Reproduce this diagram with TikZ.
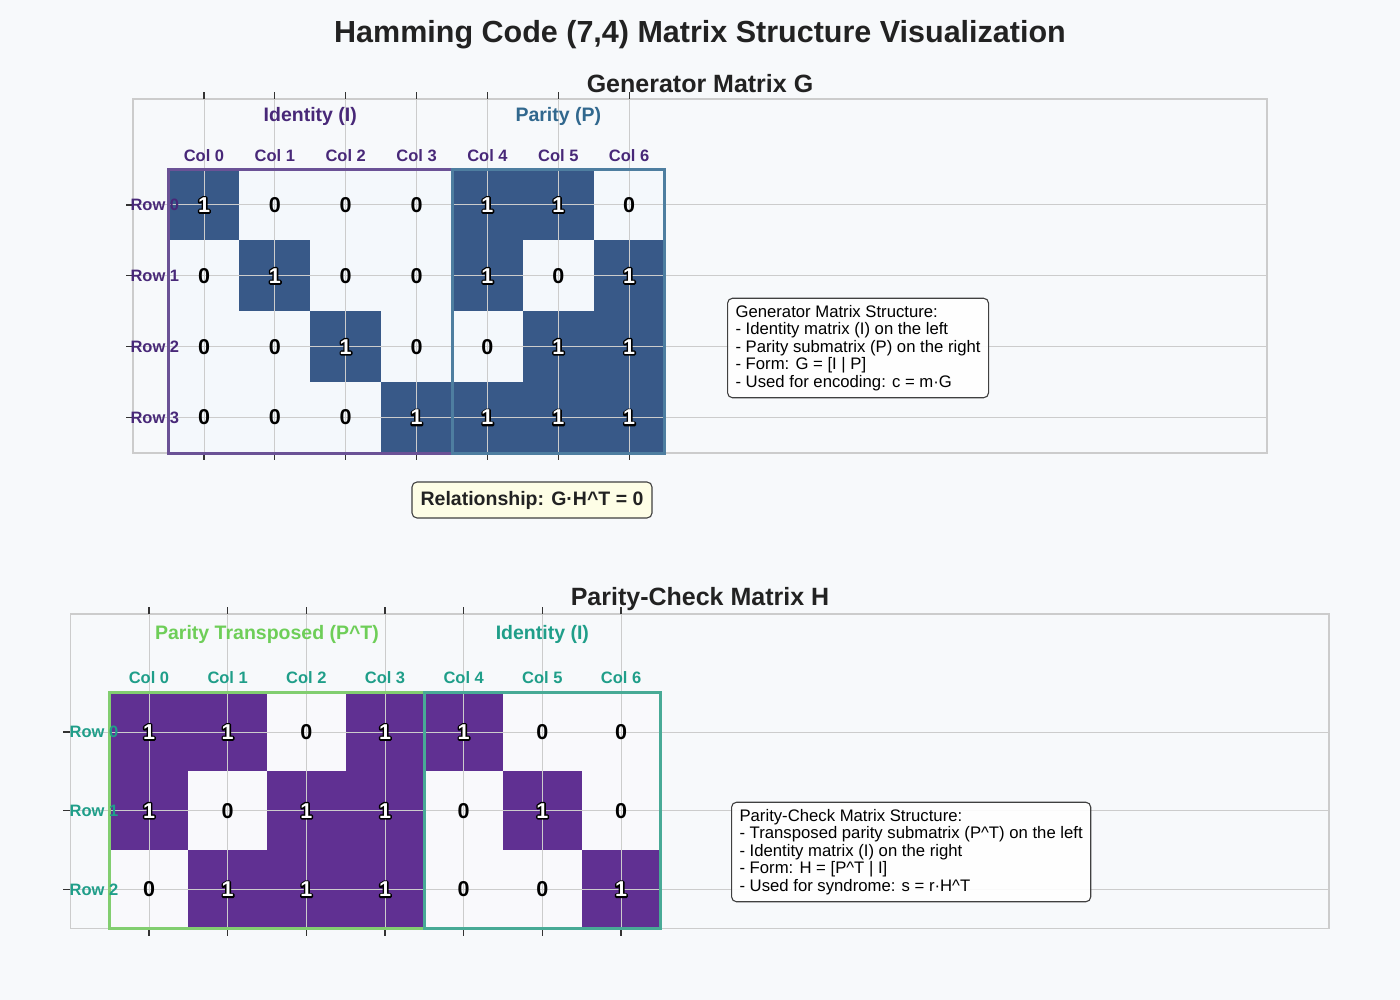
\documentclass[tikz,border=0pt]{standalone}
\usepackage{fontspec}
\setmainfont{Liberation Sans}
\usepackage{xcolor}
\usepackage{tikz}
\usetikzlibrary{positioning}
\definecolor{PageBg}{RGB}{247,249,251}
\definecolor{GOne}{RGB}{56,89,136}
\definecolor{GZero}{RGB}{244,248,252}
\definecolor{HOne}{RGB}{96,48,146}
\definecolor{HZero}{RGB}{249,249,252}
\definecolor{GridGray}{RGB}{204,204,204}
\definecolor{TickDark}{RGB}{51,51,51}
\definecolor{TitleInk}{RGB}{34,34,34}
\definecolor{GLabel}{RGB}{72,40,120}
\definecolor{PLabel}{RGB}{49,104,142}
\definecolor{IdBox}{RGB}{107,82,150}
\definecolor{PBox}{RGB}{78,126,160}
\definecolor{PTLabel}{RGB}{110,206,88}
\definecolor{HIdLabel}{RGB}{31,158,137}
\definecolor{PTBox}{RGB}{130,206,112}
\definecolor{HIdBox}{RGB}{72,170,150}
\definecolor{NoteFill}{RGB}{254,254,230}

% white digit with a dark outline
\newcommand{\haloone}{\makebox[0pt][l]{\special{pdf:literal direct 2 Tr 3 w 1 j}\textcolor{black}{1}\special{pdf:literal direct 0 Tr}}\textcolor{white}{1}}

\begin{document}
\begin{tikzpicture}[
    x=1pt, y=-1pt,
    maintitle/.style={font=\fontsize{30.5}{36}\selectfont\bfseries, text=TitleInk},
    paneltitle/.style={font=\fontsize{25}{30}\selectfont\bfseries, text=TitleInk},
    blocklabel/.style={font=\fontsize{19.5}{23}\selectfont\bfseries},
    ticklabel/.style={font=\fontsize{16.5}{20}\selectfont\bfseries},
    bit/.style={font=\fontsize{21.5}{25}\selectfont\bfseries, inner sep=0pt},
    gridline/.style={draw=GridGray, line width=1pt},
    axisframe/.style={draw=GridGray, line width=1.6pt},
    axistick/.style={draw=TickDark, line width=1.2pt},
    blockbox/.style={line width=3pt},
    notebox/.style={draw=black!75, line width=1.1pt, rounded corners=5pt,
                    fill=white, fill opacity=0.9, text opacity=1, align=left,
                    inner xsep=8pt, inner ysep=7pt,
                    font=\fontsize{16.7}{17.5}\selectfont}
]

\fill[PageBg] (0,0) rectangle (1400,1000);

\node[maintitle] (title) at (700,35) {Hamming Code (7,4) Matrix Structure Visualization};

% Generator matrix G
\node[paneltitle] (gtitle) at (700,84) {Generator Matrix G};
\begin{scope}[shift={(204,205)}, x=70.86pt, y=-70.86pt]
  \foreach \row/\bits in {0/{1,0,0,0,1,1,0}, 1/{0,1,0,0,1,0,1},
                          2/{0,0,1,0,0,1,1}, 3/{0,0,0,1,1,1,1}} {
    \foreach \b [count=\col from 0] in \bits {
      \ifnum\b=1 \def\cellfill{GOne}\else \def\cellfill{GZero}\fi
      \fill[fill=\cellfill] (\col-0.5,\row-0.5) rectangle (\col+0.5,\row+0.5);
    }
  }
  \foreach \row in {0,...,3} \draw[gridline] (-1,\row) -- (15,\row);
  \foreach \col in {0,...,6} \draw[gridline] (\col,-1.5) -- (\col,3.5);
  \draw[axisframe] (-1,-1.5) rectangle (15,3.5);
  \foreach \col in {0,...,6} {
    \draw[axistick] (\col,-1.5) -- (\col,-1.6);
    \draw[axistick] (\col,3.5) -- (\col,3.6);
  }
  \foreach \row in {0,...,3} \draw[axistick] (-1,\row) -- (-1.1,\row);
  \draw[blockbox, IdBox] (-0.5,-0.5) rectangle (3.5,3.5);
  \draw[blockbox, PBox] (3.5,-0.5) rectangle (6.5,3.5);
  \foreach \row/\bits in {0/{1,0,0,0,1,1,0}, 1/{0,1,0,0,1,0,1},
                          2/{0,0,1,0,0,1,1}, 3/{0,0,0,1,1,1,1}} {
    \foreach \b [count=\col from 0] in \bits {
      \ifnum\b=1
        \node[bit] (g-\row-\col) at (\col,\row) {\haloone};
      \else
        \node[bit] (g-\row-\col) at (\col,\row) {0};
      \fi
    }
  }
  \node[blocklabel, text=GLabel] (gid) at (1.5,-1.25) {Identity (I)};
  \node[blocklabel, text=PLabel] (gpar) at (5,-1.25) {Parity (P)};
  \foreach \col in {0,...,6}
    \node[ticklabel, text=GLabel] (gcol-\col) at (\col,-0.7) {Col \col};
  \foreach \row in {0,...,3}
    \node[ticklabel, text=GLabel, anchor=west, inner xsep=0pt] (grow-\row) at (-1.04,\row) {Row \row};
\end{scope}

\node[notebox, anchor=west] (gnote) at (727,348) {Generator Matrix Structure:\\
- Identity matrix (I) on the left\\
- Parity submatrix (P) on the right\\
- Form: G = [I | P]\\
- Used for encoding: c = m·G};

\node[draw=black!75, line width=1.1pt, rounded corners=5pt, fill=NoteFill,
      minimum width=240pt, minimum height=36pt, inner sep=0pt,
      font=\fontsize{19.5}{23}\selectfont\bfseries, text=TitleInk]
      (relation) at (532,500) {Relationship: G·H\textasciicircum T = 0};

% Parity-check matrix H
\node[paneltitle] (htitle) at (700,599) {Parity-Check Matrix H};
\begin{scope}[shift={(149,732)}, x=78.67pt, y=-78.67pt]
  \foreach \row/\bits in {0/{1,1,0,1,1,0,0}, 1/{1,0,1,1,0,1,0},
                          2/{0,1,1,1,0,0,1}} {
    \foreach \b [count=\col from 0] in \bits {
      \ifnum\b=1 \def\cellfill{HOne}\else \def\cellfill{HZero}\fi
      \fill[fill=\cellfill] (\col-0.5,\row-0.5) rectangle (\col+0.5,\row+0.5);
    }
  }
  \foreach \row in {0,...,2} \draw[gridline] (-1,\row) -- (15,\row);
  \foreach \col in {0,...,6} \draw[gridline] (\col,-1.5) -- (\col,2.5);
  \draw[axisframe] (-1,-1.5) rectangle (15,2.5);
  \foreach \col in {0,...,6} {
    \draw[axistick] (\col,-1.5) -- (\col,-1.59);
    \draw[axistick] (\col,2.5) -- (\col,2.59);
  }
  \foreach \row in {0,...,2} \draw[axistick] (-1,\row) -- (-1.09,\row);
  \draw[blockbox, PTBox] (-0.5,-0.5) rectangle (3.5,2.5);
  \draw[blockbox, HIdBox] (3.5,-0.5) rectangle (6.5,2.5);
  \foreach \row/\bits in {0/{1,1,0,1,1,0,0}, 1/{1,0,1,1,0,1,0},
                          2/{0,1,1,1,0,0,1}} {
    \foreach \b [count=\col from 0] in \bits {
      \ifnum\b=1
        \node[bit] (h-\row-\col) at (\col,\row) {\haloone};
      \else
        \node[bit] (h-\row-\col) at (\col,\row) {0};
      \fi
    }
  }
  \node[blocklabel, text=PTLabel] (hpt) at (1.5,-1.24) {Parity Transposed (P\textasciicircum T)};
  \node[blocklabel, text=HIdLabel] (hid) at (5,-1.24) {Identity (I)};
  \foreach \col in {0,...,6}
    \node[ticklabel, text=HIdLabel] (hcol-\col) at (\col,-0.69) {Col \col};
  \foreach \row in {0,...,2}
    \node[ticklabel, text=HIdLabel, anchor=west, inner xsep=0pt] (hrow-\row) at (-1.01,\row) {Row \row};
\end{scope}

\node[notebox, anchor=west] (hnote) at (731,852) {Parity-Check Matrix Structure:\\
- Transposed parity submatrix (P\textasciicircum T) on the left\\
- Identity matrix (I) on the right\\
- Form: H = [P\textasciicircum T | I]\\
- Used for syndrome: s = r·H\textasciicircum T};

\end{tikzpicture}
\end{document}
